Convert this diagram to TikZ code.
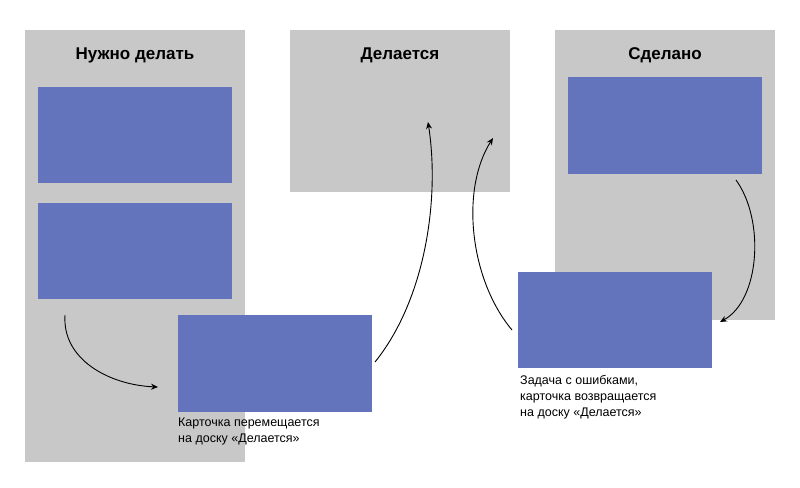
\documentclass[tikz,border=0pt]{standalone}
\usepackage{fontspec}
\setmainfont{Liberation Sans}
\usetikzlibrary{arrows.meta}
\definecolor{colgray}{HTML}{C8C8C8}
\definecolor{card}{HTML}{6374BD}
\begin{document}
\begin{tikzpicture}[x=1pt,y=-1pt,
  col/.style={fill=colgray,draw=none},
  cardbox/.style={fill=card,draw=none},
  title/.style={font=\bfseries\fontsize{17}{20}\selectfont},
  note/.style={font=\fontsize{12.5}{16}\selectfont,align=left,anchor=north west,inner sep=0},
  arr/.style={-{Stealth[length=7pt,width=6pt]},line width=0.9pt}]
\useasboundingbox (0,0) rectangle (800,487);
\fill[col] (25,30) rectangle (245,462);
\fill[col] (290,30) rectangle (510,192);
\fill[col] (555,30) rectangle (775,320);
\node[title] (t1) at (135,55) {Нужно делать};
\node[title] (t2) at (400,55) {Делается};
\node[title] (t3) at (665,55) {Сделано};
\fill[cardbox] (38,87) rectangle (232,183);
\fill[cardbox] (38,203) rectangle (232,299);
\fill[cardbox] (178,315) rectangle (372,412);
\fill[cardbox] (568,77) rectangle (762,174);
\fill[cardbox] (518,272) rectangle (712,368);
\node[note] (n1) at (178,418) {Карточка перемещается\\на доску «Делается»};
\node[note] (n2) at (520,375) {Задача с ошибками,\\карточка возвращается\\на доску «Делается»};
\coordinate (a1) at (65,315); \coordinate (b1) at (158,387);
\coordinate (a2) at (375,362); \coordinate (b2) at (428,122);
\coordinate (a3) at (512,330); \coordinate (b3) at (493,138);
\coordinate (a4) at (736,180); \coordinate (b4) at (720,322);
\draw[arr] (a1) .. controls (62,360) and (110,385) .. (b1);
\draw[arr] (a2) .. controls (425,300) and (440,200) .. (b2);
\draw[arr] (a3) .. controls (470,280) and (460,190) .. (b3);
\draw[arr] (a4) .. controls (765,220) and (760,300) .. (b4);
\end{tikzpicture}
\end{document}
